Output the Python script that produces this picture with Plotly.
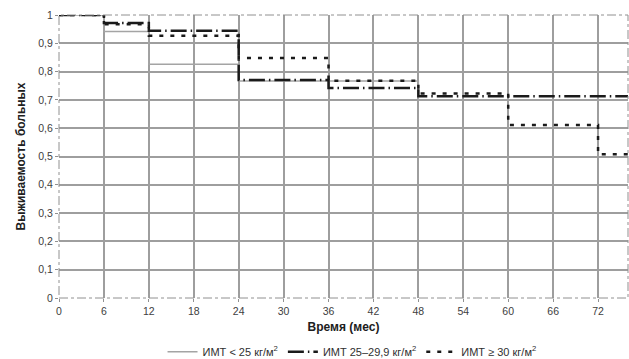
import plotly.graph_objects as go

# Data read from the Kaplan–Meier style chart
t_bmi_lt25 = [0, 6, 12, 24, 48, 76]
s_bmi_lt25 = [1.0, 0.942, 0.826, 0.767, 0.700, 0.700]

t_bmi_25_29 = [0, 6, 12, 24, 36, 48, 76]
s_bmi_25_29 = [1.0, 0.972, 0.944, 0.770, 0.742, 0.713, 0.713]

t_bmi_ge30 = [0, 6, 12, 24, 36, 48, 60, 72, 76]
s_bmi_ge30 = [1.0, 0.967, 0.927, 0.848, 0.768, 0.723, 0.611, 0.508, 0.508]

names = ["ИМТ < 25 кг/м<sup>2</sup>", "ИМТ 25–29,9 кг/м<sup>2</sup>", "ИМТ ≥ 30 кг/м<sup>2</sup>"]
x_ticks = [0, 6, 12, 18, 24, 30, 36, 42, 48, 54, 60, 66, 72]

fig = go.Figure()
fig.add_trace(go.Scatter(x=t_bmi_lt25, y=s_bmi_lt25, mode="lines", line_shape="hv",
                         name=names[0], line=dict(color="#a4a4a4", width=1.5)))
fig.add_trace(go.Scatter(x=t_bmi_25_29, y=s_bmi_25_29, mode="lines", line_shape="hv",
                         name=names[1], line=dict(color="#1a1a1a", width=2.5, dash="16px,4px,1.5px,4px")))
fig.add_trace(go.Scatter(x=t_bmi_ge30, y=s_bmi_ge30, mode="lines", line_shape="hv",
                         name=names[2], line=dict(color="#1a1a1a", width=2.5, dash="4px,7px")))

fig.add_shape(type="rect", xref="x domain", yref="y domain", x0=0, x1=1, y0=0, y1=1,
              line=dict(color="#909090", width=1, dash="dashdot"), layer="above")

font_family = "Liberation Sans, Arial, sans-serif"
fig.update_layout(
    width=629, height=359,
    margin=dict(l=59, r=1, t=15, b=61, autoexpand=False),
    paper_bgcolor="white", plot_bgcolor="white",
    separators=", ",
    font=dict(family=font_family, size=10, color="#404040"),
    showlegend=True,
    legend=dict(orientation="h", x=0.515, xanchor="center", y=-0.19, yanchor="middle",
                font=dict(size=11, color="#303030"), itemwidth=30,
                tracegroupgap=0, bgcolor="rgba(0,0,0,0)"),
    xaxis=dict(range=[0, 76], tickvals=x_ticks, showgrid=True, gridcolor="#9e9e9e", gridwidth=1.5,
               zeroline=False, showline=False, ticks="outside", ticklen=3, tickcolor="#909090",
               tickfont=dict(size=10.5, color="#404040"), automargin=False,
               title=dict(text="<b>Время (мес)</b>", font=dict(size=12, color="#202020"), standoff=7)),
    yaxis=dict(range=[0, 1], dtick=0.1, showgrid=True, gridcolor="#9e9e9e", gridwidth=1.5,
               zeroline=False, showline=False, ticks="outside", ticklen=3, tickcolor="#909090",
               tickfont=dict(size=10.5, color="#404040"), automargin=False,
               title=dict(text="<b>Выживаемость больных</b>", font=dict(size=12, color="#202020"), standoff=10)),
)

fig.write_html("out.html", config={"displayModeBar": False},
               post_script="document.body.style.margin='0';document.body.style.padding='0';")
